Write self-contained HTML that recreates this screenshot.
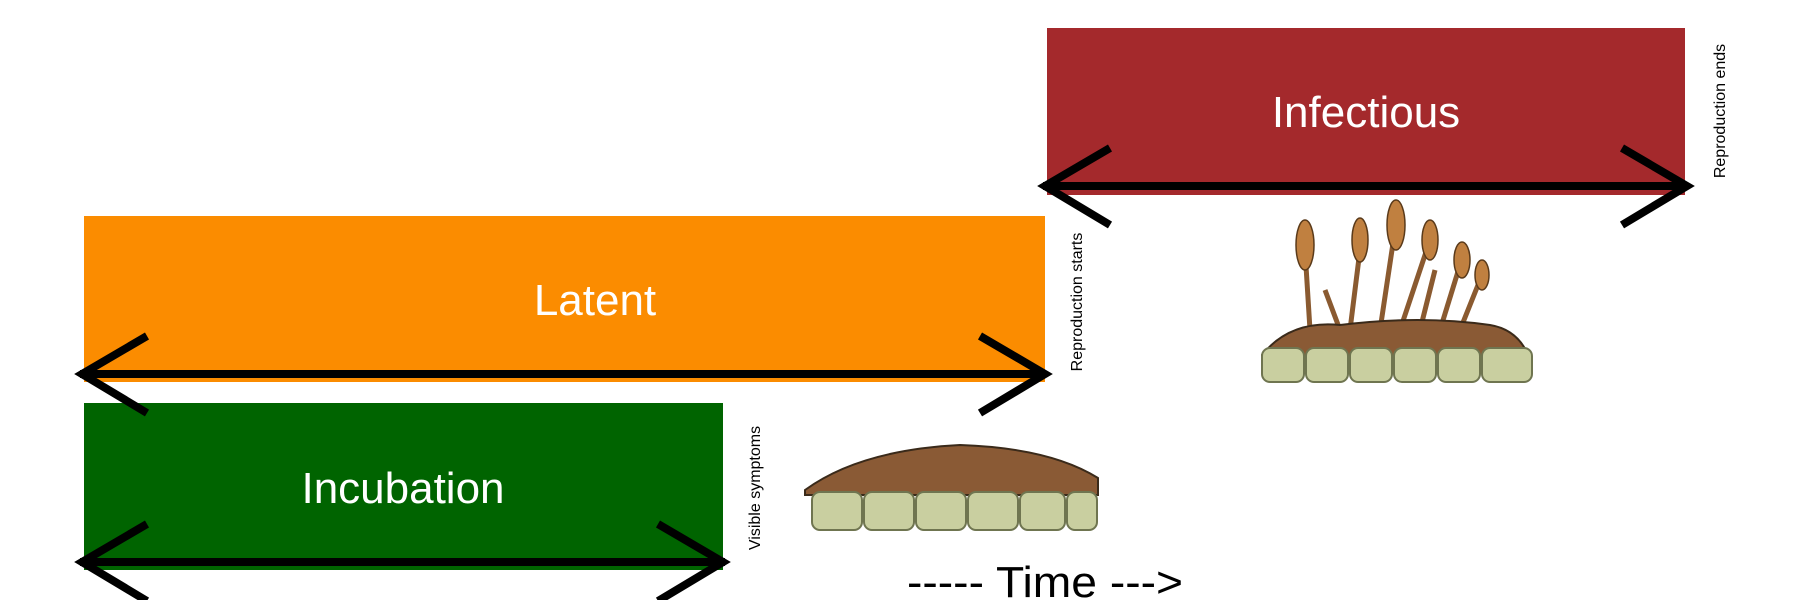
<!DOCTYPE html>
<html><head><meta charset="utf-8"><style>
html,body{margin:0;padding:0;background:#fff;}
svg{display:block;}
text{font-family:"Liberation Sans",Arial,sans-serif;}
</style></head><body>
<svg width="1800" height="600" viewBox="0 0 1800 600" xmlns="http://www.w3.org/2000/svg">
<rect x="1047" y="28" width="638" height="167" fill="#a4292c"/>
<rect x="84" y="216" width="961" height="166" fill="#fb8c00"/>
<rect x="84" y="403" width="639" height="167" fill="#006400"/>
<text x="1366" y="127" font-size="44" fill="#fff" text-anchor="middle">Infectious</text>
<text x="595" y="315" font-size="44" fill="#fff" text-anchor="middle">Latent</text>
<text x="403" y="503" font-size="44" fill="#fff" text-anchor="middle">Incubation</text>
<g stroke="#000" stroke-width="8" fill="none" stroke-linecap="butt">
<line x1="1043" y1="186" x2="1688" y2="186"/>
<polyline points="1110,148 1045,186 1110,225"/>
<polyline points="1622,148 1687,186 1622,225"/>
<line x1="80" y1="374" x2="1046" y2="374"/>
<polyline points="147,336 82,374 147,413"/>
<polyline points="980,336 1045,374 980,413"/>
<line x1="80" y1="562" x2="725" y2="562"/>
<polyline points="147,524 82,562 147,601"/>
<polyline points="658,524 723,562 658,601"/>
</g>
<text font-size="16" fill="#000" text-anchor="middle" transform="translate(1725,111) rotate(-90)">Reproduction ends</text>
<text font-size="16" fill="#000" text-anchor="middle" transform="translate(1082,302) rotate(-90)">Reproduction starts</text>
<text font-size="16" fill="#000" text-anchor="middle" transform="translate(760,488) rotate(-90)">Visible symptoms</text>
<text x="1045" y="597" font-size="44" fill="#000" text-anchor="middle" textLength="276" lengthAdjust="spacingAndGlyphs">----- Time ---&gt;</text>
<g>
<path d="M805,490 Q860,450 960,445 Q1050,448 1098,478 L1098,495 L805,495 Z" fill="#8a5a35" stroke="#3a2a1a" stroke-width="2"/>
<g fill="#c9cfa0" stroke="#6f7550" stroke-width="2">
<rect x="812" y="492" width="50" height="38" rx="8"/>
<rect x="864" y="492" width="50" height="38" rx="8"/>
<rect x="916" y="492" width="50" height="38" rx="8"/>
<rect x="968" y="492" width="50" height="38" rx="8"/>
<rect x="1020" y="492" width="45" height="38" rx="8"/>
<rect x="1067" y="492" width="30" height="38" rx="8"/>
</g>
</g>
<g>
<g stroke="#8a5a30" stroke-width="5" fill="none">
<line x1="1310" y1="330" x2="1305" y2="250"/>
<line x1="1350" y1="330" x2="1360" y2="250"/>
<line x1="1380" y1="330" x2="1395" y2="230"/>
<line x1="1400" y1="330" x2="1430" y2="240"/>
<line x1="1420" y1="330" x2="1435" y2="270"/>
<line x1="1440" y1="330" x2="1460" y2="265"/>
<line x1="1460" y1="330" x2="1480" y2="280"/>
<line x1="1340" y1="330" x2="1325" y2="290"/>
</g>
<g fill="#c08040" stroke="#5a3a1a" stroke-width="1.5">
<ellipse cx="1305" cy="245" rx="9" ry="25"/>
<ellipse cx="1360" cy="240" rx="8" ry="22"/>
<ellipse cx="1396" cy="225" rx="9" ry="25"/>
<ellipse cx="1430" cy="240" rx="8" ry="20"/>
<ellipse cx="1462" cy="260" rx="8" ry="18"/>
<ellipse cx="1482" cy="275" rx="7" ry="15"/>
</g>
<path d="M1262,355 Q1290,320 1340,325 Q1420,315 1490,325 Q1520,330 1530,360 L1262,360 Z" fill="#8a5a35" stroke="#3a2a1a" stroke-width="2"/>
<g fill="#c9cfa0" stroke="#6f7550" stroke-width="2">
<rect x="1262" y="348" width="42" height="34" rx="8"/>
<rect x="1306" y="348" width="42" height="34" rx="8"/>
<rect x="1350" y="348" width="42" height="34" rx="8"/>
<rect x="1394" y="348" width="42" height="34" rx="8"/>
<rect x="1438" y="348" width="42" height="34" rx="8"/>
<rect x="1482" y="348" width="50" height="34" rx="8"/>
</g>
</g>
</svg>
</body></html>
